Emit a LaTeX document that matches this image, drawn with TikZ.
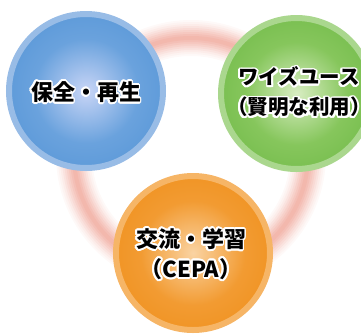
\documentclass[tikz,border=0pt]{standalone}
\usepackage{fontspec}
\newfontfamily\jp{Noto Sans CJK JP}
\usetikzlibrary{calc}
\definecolor{blueIn}{HTML}{C8D5F6}
\definecolor{blueMid}{HTML}{6AA2DD}
\definecolor{blueOut}{HTML}{3D86CF}
\definecolor{blueRim}{HTML}{98BCE6}
\definecolor{greenIn}{HTML}{D8EDC2}
\definecolor{greenMid}{HTML}{86C65C}
\definecolor{greenOut}{HTML}{57AC31}
\definecolor{greenRim}{HTML}{AAD78E}
\definecolor{orangeIn}{HTML}{FAD3A2}
\definecolor{orangeMid}{HTML}{F29B32}
\definecolor{orangeOut}{HTML}{EC8200}
\definecolor{orangeRim}{HTML}{F6B566}
\definecolor{ringPink}{HTML}{F2B4A9}
\pgfdeclareradialshading{blueball}{\pgfpoint{0bp}{0bp}}{color(0bp)=(blueIn); color(17bp)=(blueMid); color(50bp)=(blueOut)}
\pgfdeclareradialshading{greenball}{\pgfpoint{0bp}{0bp}}{color(0bp)=(greenIn); color(17bp)=(greenMid); color(50bp)=(greenOut)}
\pgfdeclareradialshading{orangeball}{\pgfpoint{0bp}{0bp}}{color(0bp)=(orangeIn); color(17bp)=(orangeMid); color(50bp)=(orangeOut)}
\tikzset{ball/.style={circle,inner sep=0pt,minimum size=154pt,line width=6pt},
  lbl/.style={font=\jp\bfseries\fontsize{22}{30}\selectfont,align=center,inner sep=0pt}}
\newcommand\halolabel[4][]{%
  \foreach \ang in {0,22.5,...,337.5}
    \node[lbl,#1,text=white] at ($(#3)+(\ang:1.8pt)$) {#4};
  \node[lbl,#1] (#2) at (#3) {#4};
}

\begin{document}
\begin{tikzpicture}[x=1pt,y=-1pt]
\useasboundingbox (0,0) rectangle (361,333);
%----------------ring----------
\coordinate (ringC) at (191,155);
\foreach \w/\k in {36/8,32/16,28/26,24/37,20/49,16/61,12/73,8/85,4/95}
  \draw[ringPink!\k!white,line width=\w] (ringC) circle (117);
%----------------balls----------
\node[ball,shading=blueball,draw=blueRim] (hozen) at (86,91) {};
\node[ball,shading=greenball,draw=greenRim,minimum size=151pt] (wise) at (296.5,93.5) {};
\node[ball,shading=orangeball,draw=orangeRim] (koryu) at (193,253) {};
%----------------labels----------
\halolabel{hozenT}{86,92}{保全・再生}
\halolabel[font=\jp\bfseries\fontsize{20.5}{30}\selectfont]{wiseT}{299,92}{ワイズユース\\（賢明な利用）}
\halolabel{koryuT}{191,254}{交流・学習\\（CEPA）}
\end{tikzpicture}
\end{document}
